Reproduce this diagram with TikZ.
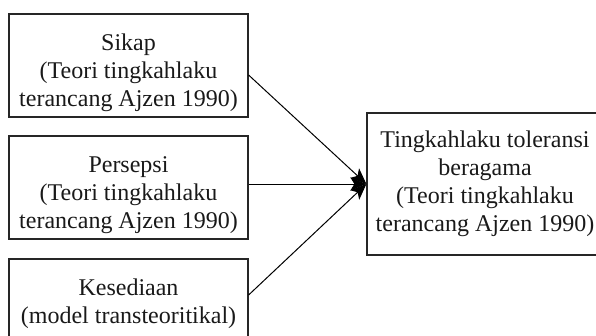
\documentclass[tikz,border=0pt]{standalone}
\usepackage{fontspec}
\setmainfont{Liberation Serif}
\usetikzlibrary{arrows.meta}

\begin{document}
\begin{tikzpicture}[x=1pt, y=1pt]

\tikzset{%
every node/.style={align=center, inner xsep=0pt, inner ysep=0pt, text=black!90, font=\fontsize{24}{28}\selectfont}%
}

% text height/depth: with align the baseline is the last line
\tikzstyle{box}=[draw=black!85, line width=1.2pt, minimum width=239pt, minimum height=103pt, text height=92pt, text depth=11pt]
\tikzstyle{goal}=[draw=black!85, line width=1.2pt, minimum width=236pt, minimum height=142pt, text height=118pt, text depth=24pt]
\tikzstyle{arr}=[-{Stealth[length=16pt, width=13pt, inset=4pt]}, line width=1pt]

\useasboundingbox (0,0) rectangle (596,-335);
\clip (0,0) rectangle (596,-335);

\node[box] (sikap) at (128.5,-65.5) {Sikap\\(Teori tingkahlaku\\terancang Ajzen 1990)};
\node[box, below of=sikap, node distance=122pt] (persepsi) {Persepsi\\(Teori tingkahlaku\\terancang Ajzen 1990)};
\node[box, below of=persepsi, node distance=123pt, text height=64pt, text depth=39pt] (kesediaan) {Kesediaan\\(model transteoritikal)};

\node[goal, right of=persepsi, node distance=356.5pt, yshift=3.5pt] (toleransi) {Tingkahlaku toleransi\\beragama\\(Teori tingkahlaku\\terancang Ajzen 1990)};

\draw[arr] ([yshift=-9.5pt]sikap.east) to (toleransi.west);
\draw[arr] ([yshift=3.5pt]persepsi.east) to (toleransi.west);
\draw[arr] ([yshift=15.5pt]kesediaan.east) to (toleransi.west);

\end{tikzpicture}
\end{document}
